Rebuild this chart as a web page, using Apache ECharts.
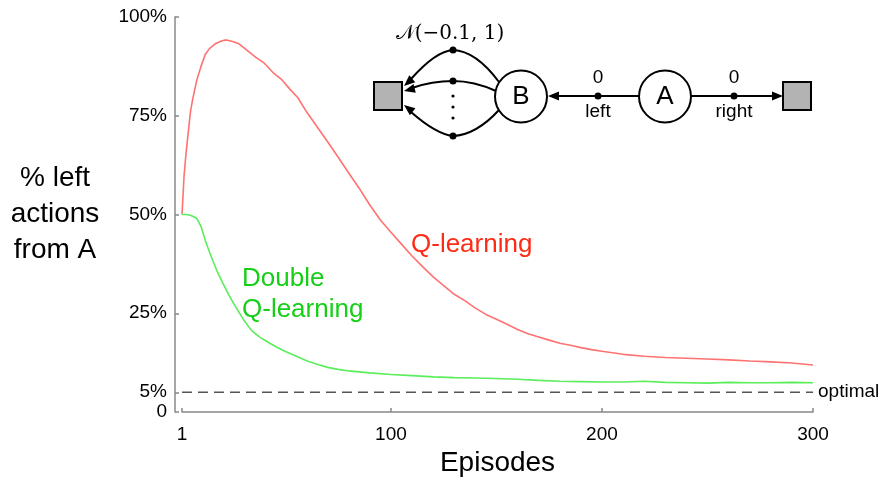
<!DOCTYPE html>
<html><head><meta charset="utf-8">
<script src="https://cdn.jsdelivr.net/npm/echarts@6/dist/echarts.min.js"></script>
<style>html,body{margin:0;padding:0;background:#fff}#c{width:888px;height:483px}</style>
</head><body><div id="c"></div>
<script>
// ---- data ----
const episodesQ = [1,2,3,4,5,6,8,10,12,14,17,20,22,25,28,32,36,40,44,48,52,56,60,65,70,75,80,85,90,95,100,105,110,115,120,125,130,135,140,145,150,155,160,165,170,175,180,185,190,195,200,210,220,230,240,250,260,270,280,290,300];
const pctQ = [50,60,66,71,76,79,84,87.5,90.5,92,93.3,94,94.2,93.8,93.2,91.5,89.8,88.3,86,84.3,81.8,79.5,76,72.2,68.4,64.5,60.5,56.6,52.4,48.6,45.5,42.5,39.5,36.8,34.2,32,29.8,28.2,26.3,24.7,23.5,22.2,20.9,19.8,19,18.2,17.4,16.9,16.3,15.8,15.4,14.6,14.1,13.8,13.6,13.4,13.2,12.9,12.7,12.4,11.9];
const episodesDQ = [1,3,5,7,8,10,12,14,16,18,20,23,26,30,34,38,42,46,50,55,60,65,70,75,80,90,100,110,120,130,140,150,160,170,180,190,200,210,220,230,240,250,260,270,280,290,300];
const pctDQ = [50,50,49.8,49.3,49,47,43.5,40.5,37.8,35.2,33,29.8,27,23.5,20.6,18.9,17.6,16.4,15.3,14.2,13,12.1,11.3,10.8,10.4,9.9,9.5,9.2,8.9,8.7,8.6,8.5,8.3,8,7.8,7.7,7.6,7.6,7.8,7.5,7.4,7.3,7.5,7.4,7.4,7.5,7.4];
const optimalPct = 5;
const optimalRange = [1, 300];
const xTicks = [1, 100, 200, 300];
const yTicks = [0, 5, 25, 50, 75, 100];

const FONT = "'Liberation Sans', Arial, Helvetica, sans-serif";

// ---- inset diagram helpers ----
function arrowHead(tx, ty, fx, fy, len, half) {
  len = len || 11; half = half || 4.5;
  const dx = tx - fx, dy = ty - fy, n = Math.hypot(dx, dy);
  const ux = dx / n, uy = dy / n;
  const bx = tx - ux * len, by = ty - uy * len;
  const px = -uy, py = ux;
  return { type: 'polygon', shape: { points: [[tx, ty], [bx + px * half, by + py * half], [bx - px * half, by - py * half]] },
           style: { fill: '#000' } };
}
function quad(x1, y1, cx, cy, x2, y2) {
  return { type: 'bezierCurve', shape: { x1, y1, x2, y2, cpx1: cx, cpy1: cy },
           style: { stroke: '#000', lineWidth: 2, fill: null } };
}
function dot(x, y, r) { return { type: 'circle', shape: { cx: x, cy: y, r: r || 3.5 }, style: { fill: '#000' } }; }
function txt(x, y, t, size, extra) {
  return { type: 'text', x, y, style: Object.assign({ text: t, font: size + 'px ' + FONT, fill: '#000', align: 'center', verticalAlign: 'middle' }, extra || {}) };
}

const diagram = [];
// terminal squares
diagram.push({ type: 'rect', shape: { x: 374, y: 82, width: 28, height: 28 }, style: { fill: '#b3b3b3', stroke: '#000', lineWidth: 2 } });
diagram.push({ type: 'rect', shape: { x: 783, y: 82, width: 28, height: 28 }, style: { fill: '#b3b3b3', stroke: '#000', lineWidth: 2 } });
// A -> B (left)
diagram.push({ type: 'line', shape: { x1: 639, y1: 96, x2: 556, y2: 96 }, style: { stroke: '#000', lineWidth: 2 } });
diagram.push(arrowHead(548, 96, 600, 96));
diagram.push(dot(598, 96));
// A -> right square
diagram.push({ type: 'line', shape: { x1: 691, y1: 96, x2: 775, y2: 96 }, style: { stroke: '#000', lineWidth: 2 } });
diagram.push(arrowHead(783, 96, 740, 96));
diagram.push(dot(734, 96));
// B -> left square, three curves
diagram.push(quad(499, 82, 476, 51, 453, 50));
diagram.push(quad(453, 50, 436, 51, 411, 79));
diagram.push(arrowHead(404, 86, 436, 58));
diagram.push(quad(496, 91, 474, 81, 453, 81));
diagram.push(quad(453, 81, 432, 81, 412, 88));
diagram.push(arrowHead(404, 91, 440, 82));
diagram.push(quad(499, 110, 476, 135, 453, 136));
diagram.push(quad(453, 136, 436, 134, 411, 112));
diagram.push(arrowHead(404, 105, 436, 130));
diagram.push(dot(453, 50)); diagram.push(dot(453, 81)); diagram.push(dot(453, 136));
diagram.push(dot(453, 96, 1.6)); diagram.push(dot(453, 107, 1.6)); diagram.push(dot(453, 118, 1.6));
// state circles
diagram.push({ type: 'circle', shape: { cx: 521, cy: 96.5, r: 26 }, style: { fill: '#fff', stroke: '#000', lineWidth: 2 } });
diagram.push({ type: 'circle', shape: { cx: 665, cy: 96.5, r: 26 }, style: { fill: '#fff', stroke: '#000', lineWidth: 2 } });
diagram.push(txt(521, 97, 'B', 26));
diagram.push(txt(665, 97, 'A', 26));
diagram.push(txt(598, 78, '0', 19));
diagram.push(txt(598, 112, 'left', 19));
diagram.push(txt(734, 78, '0', 19));
diagram.push(txt(734, 112, 'right', 19));
diagram.push({ type: 'text', x: 450, y: 34, style: { text: '{n|𝒩}(−0.1, 1)', font: "20px 'DejaVu Serif', 'Liberation Serif', serif", fill: '#000', align: 'center', verticalAlign: 'middle',
  rich: { n: { fontFamily: "'DejaVu Serif', 'Liberation Serif', serif", fontSize: 20 } } } });

// series labels
diagram.push({ type: 'text', x: 411, y: 245, style: { text: 'Q-learning', font: '26px ' + FONT, fill: '#ff2a14', align: 'left', verticalAlign: 'middle' } });
diagram.push({ type: 'text', x: 242, y: 294, style: { text: 'Double\nQ-learning', font: '26px ' + FONT, fill: '#16cf16', align: 'left', verticalAlign: 'middle', lineHeight: 31 } });

const chart = echarts.init(document.getElementById('c'), null, { renderer: 'canvas' });
chart.setOption({
  animation: false,
  backgroundColor: '#fff',
  textStyle: { fontFamily: FONT },
  grid: { left: 182, right: 75, top: 17, bottom: 71, containLabel: false },
  xAxis: {
    type: 'value', min: 1, max: 300, offset: 5,
    name: 'Episodes', nameLocation: 'middle', nameGap: 30,
    nameTextStyle: { fontSize: 28, color: '#000', fontFamily: FONT },
    axisLine: { show: true, lineStyle: { color: '#888', width: 1.5 } },
    axisTick: { show: true, inside: true, length: 4, customValues: xTicks, lineStyle: { color: '#888', width: 1.5 } },
    axisLabel: { customValues: xTicks, fontSize: 19, color: '#000', margin: 8, fontFamily: FONT },
    splitLine: { show: false }
  },
  yAxis: {
    type: 'value', min: 0, max: 100, offset: 7,
    name: '% left\nactions\nfrom A', nameLocation: 'middle', nameRotate: 0, nameGap: 120,
    nameTextStyle: { fontSize: 28, color: '#000', align: 'center', lineHeight: 36, fontFamily: FONT },
    axisLine: { show: true, lineStyle: { color: '#888', width: 1.5 } },
    axisTick: { show: true, inside: true, length: 4, customValues: yTicks, lineStyle: { color: '#888', width: 1.5 } },
    axisLabel: { customValues: yTicks, fontSize: 19, color: '#000', margin: 8, fontFamily: FONT,
      formatter: v => v === 0 ? '0' : v + '%' },
    splitLine: { show: false }
  },
  series: [
    { name: 'optimal', type: 'line', data: optimalRange.map(x => [x, optimalPct]), showSymbol: false,
      lineStyle: { color: '#555', width: 1.5, type: [10, 6] }, z: 1,
      endLabel: { show: true, formatter: 'optimal', fontSize: 19, color: '#000', distance: 5, fontFamily: FONT } },
    { name: 'Q-learning', type: 'line', data: episodesQ.map((e, i) => [e, pctQ[i]]), showSymbol: false,
      lineStyle: { color: '#ff7272', width: 1.6 }, z: 3 },
    { name: 'Double Q-learning', type: 'line', data: episodesDQ.map((e, i) => [e, pctDQ[i]]), showSymbol: false,
      lineStyle: { color: '#5aee5a', width: 1.6 }, z: 3 }
  ],
  graphic: { elements: diagram.map(e => Object.assign({ z: 100 }, e)) }
});
</script></body></html>
